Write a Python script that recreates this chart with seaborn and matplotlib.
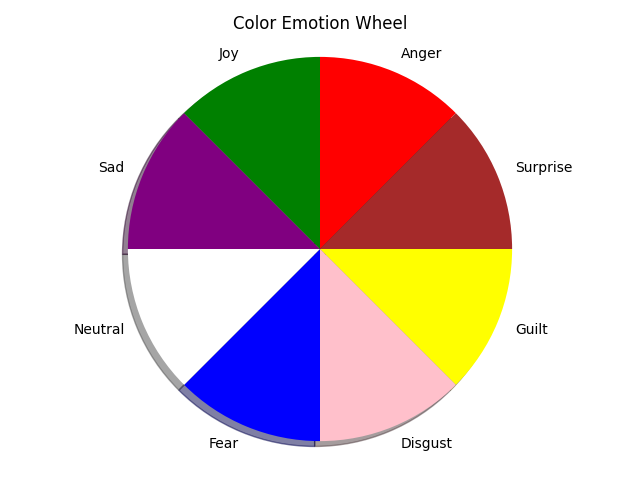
import matplotlib
matplotlib.use("Agg")
import matplotlib.pyplot as plt
import seaborn as sns

# ---------------- data ----------------
emotions = ["Anger", "Surprise", "Guilt", "Disgust", "Fear", "Neutral", "Sad", "Joy"]
shares = [1, 1, 1, 1, 1, 1, 1, 1]
colors = ["red", "brown", "yellow", "pink", "blue", "white", "purple", "green"]

sns.reset_defaults()
plt.rcParams['font.family'] = ['DejaVu Sans']

fig = plt.figure(figsize=(6.4, 4.8), dpi=100)
plt.pie(shares, labels=emotions, colors=colors, startangle=90,
        counterclock=False, shadow=True)
plt.axis('equal')
plt.title("Color Emotion Wheel")
plt.subplots_adjust(left=0.053, right=0.947, bottom=0.041, top=0.9215)
plt.savefig("out.png")
